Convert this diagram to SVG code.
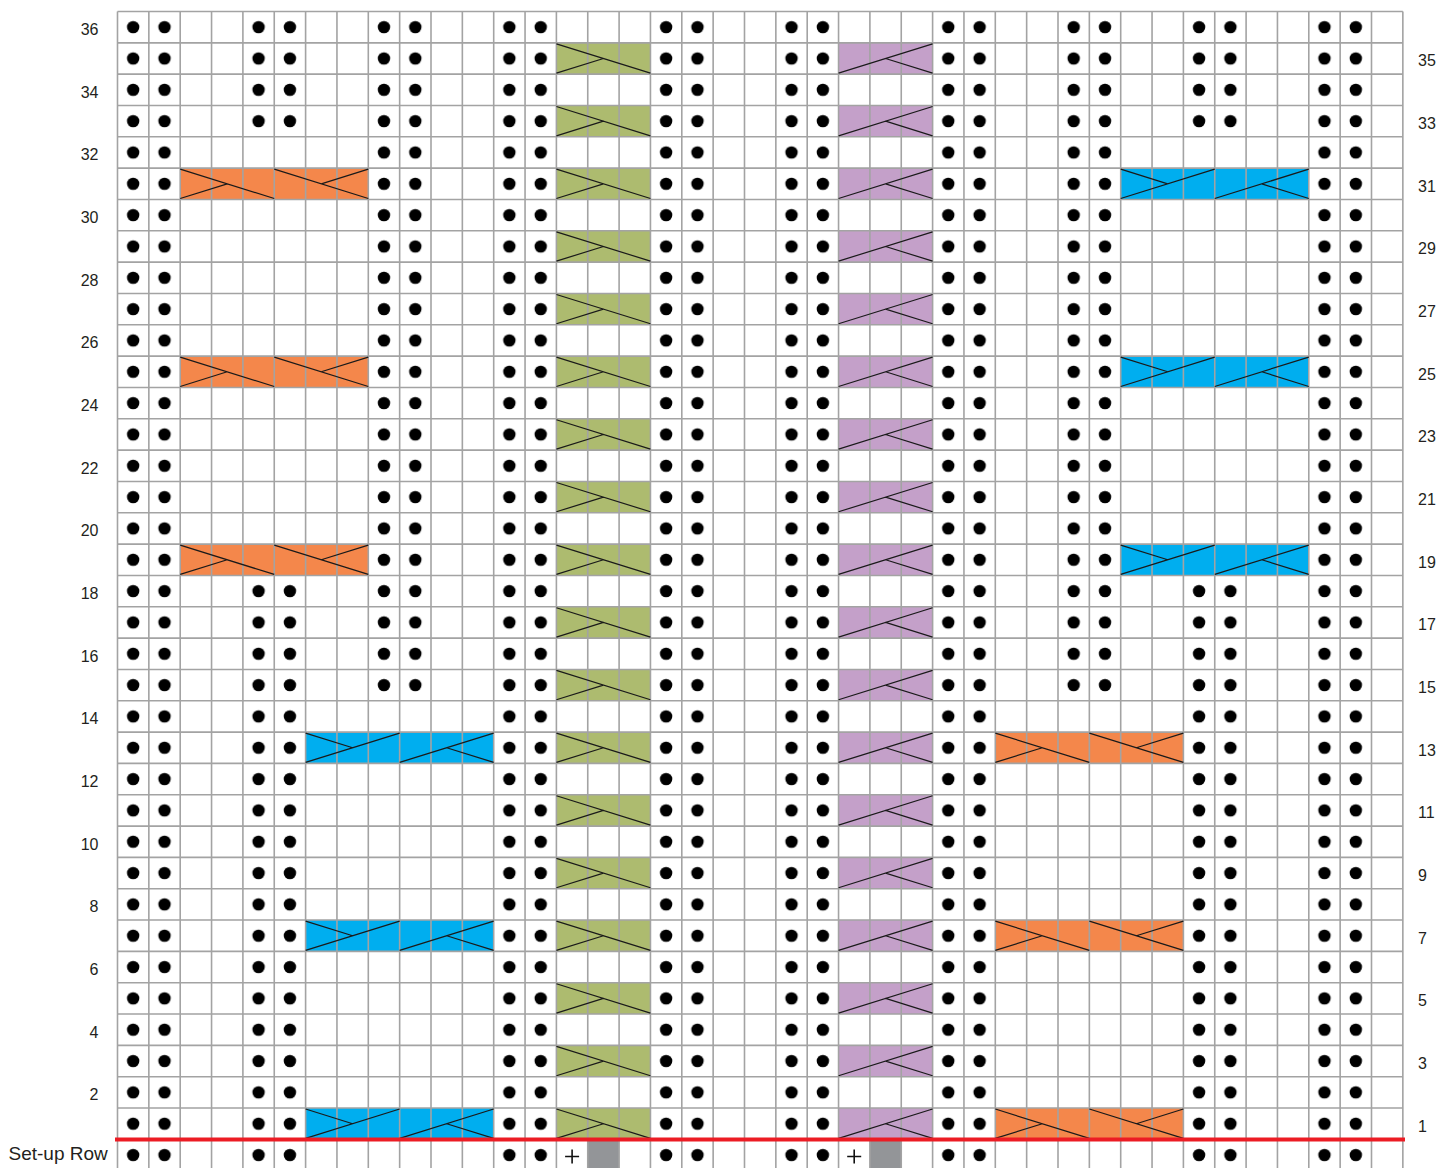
<svg xmlns="http://www.w3.org/2000/svg" xmlns:xlink="http://www.w3.org/1999/xlink" width="1439" height="1168" viewBox="0 0 1439 1168">
<style>
.fg{fill:#adbb6f}.fp{fill:#c4a0c9}.fo{fill:#f4874b}.fb{fill:#00aeef}.fs{fill:#939598}
.grid{fill:none;stroke:#a3a3a3;stroke-width:1.6}
.cl{fill:none;stroke:#1a1a1a;stroke-width:1.2}
.dots{fill:url(#dot)}
.lbl{font-family:"Liberation Sans",Arial,sans-serif;font-size:16px;fill:#231f20}
.lft{text-anchor:end}
.plus{stroke:#111;stroke-width:1.6}
</style>
<defs>
<pattern id="dot" patternUnits="userSpaceOnUse" x="117.5" y="11.5" width="31.35" height="31.33">
<circle cx="15.675" cy="15.665" r="6.2" fill="#000"/>
</pattern>
<rect id="f3" width="94.05" height="31.33"/>
<rect id="f6" width="188.1" height="31.33"/>
<path id="lG" class="cl" d="M0 1L94.05 30.33M0 30.33L47.03 15.67"/>
<path id="lP" class="cl" d="M0 30.33L94.05 1M47.03 15.67L94.05 30.33"/>
<path id="lO" class="cl" d="M0 1L94.05 30.33M0 30.33L47.03 15.67M94.05 1L188.1 30.33M141.08 15.67L188.1 1"/>
<path id="lB" class="cl" d="M0 30.33L94.05 1M0 1L47.03 15.67M94.05 30.33L188.1 1M141.08 15.67L188.1 30.33"/>
</defs>
<rect width="1439" height="1168" fill="#fff"/>
<g id="cable-fills">
<g class="fg">
<use xlink:href="#f3" x="556.4" y="42.83"/><use xlink:href="#f3" x="556.4" y="105.49"/><use xlink:href="#f3" x="556.4" y="168.15"/><use xlink:href="#f3" x="556.4" y="230.81"/><use xlink:href="#f3" x="556.4" y="293.47"/><use xlink:href="#f3" x="556.4" y="356.13"/><use xlink:href="#f3" x="556.4" y="418.79"/><use xlink:href="#f3" x="556.4" y="481.45"/><use xlink:href="#f3" x="556.4" y="544.11"/><use xlink:href="#f3" x="556.4" y="606.77"/><use xlink:href="#f3" x="556.4" y="669.43"/><use xlink:href="#f3" x="556.4" y="732.09"/><use xlink:href="#f3" x="556.4" y="794.75"/><use xlink:href="#f3" x="556.4" y="857.41"/><use xlink:href="#f3" x="556.4" y="920.07"/><use xlink:href="#f3" x="556.4" y="982.73"/><use xlink:href="#f3" x="556.4" y="1045.39"/><use xlink:href="#f3" x="556.4" y="1108.05"/>
</g>
<g class="fp">
<use xlink:href="#f3" x="838.55" y="42.83"/><use xlink:href="#f3" x="838.55" y="105.49"/><use xlink:href="#f3" x="838.55" y="168.15"/><use xlink:href="#f3" x="838.55" y="230.81"/><use xlink:href="#f3" x="838.55" y="293.47"/><use xlink:href="#f3" x="838.55" y="356.13"/><use xlink:href="#f3" x="838.55" y="418.79"/><use xlink:href="#f3" x="838.55" y="481.45"/><use xlink:href="#f3" x="838.55" y="544.11"/><use xlink:href="#f3" x="838.55" y="606.77"/><use xlink:href="#f3" x="838.55" y="669.43"/><use xlink:href="#f3" x="838.55" y="732.09"/><use xlink:href="#f3" x="838.55" y="794.75"/><use xlink:href="#f3" x="838.55" y="857.41"/><use xlink:href="#f3" x="838.55" y="920.07"/><use xlink:href="#f3" x="838.55" y="982.73"/><use xlink:href="#f3" x="838.55" y="1045.39"/><use xlink:href="#f3" x="838.55" y="1108.05"/>
</g>
<g class="fo">
<use xlink:href="#f6" x="180.2" y="168.15"/><use xlink:href="#f6" x="180.2" y="356.13"/><use xlink:href="#f6" x="180.2" y="544.11"/>
<use xlink:href="#f6" x="995.3" y="732.09"/><use xlink:href="#f6" x="995.3" y="920.07"/><use xlink:href="#f6" x="995.3" y="1108.05"/>
</g>
<g class="fb">
<use xlink:href="#f6" x="1120.7" y="168.15"/><use xlink:href="#f6" x="1120.7" y="356.13"/><use xlink:href="#f6" x="1120.7" y="544.11"/>
<use xlink:href="#f6" x="305.6" y="732.09"/><use xlink:href="#f6" x="305.6" y="920.07"/><use xlink:href="#f6" x="305.6" y="1108.05"/>
</g>
<g class="fs">
<rect x="587.75" y="1139.38" width="31.35" height="31.33"/>
<rect x="869.9" y="1139.38" width="31.35" height="31.33"/>
</g>
</g>
<g id="grid">
<path class="grid" d="M117.5 11.5V1171M148.85 11.5V1171M180.2 11.5V1171M211.55 11.5V1171M242.9 11.5V1171M274.25 11.5V1171M305.6 11.5V1171M336.95 11.5V1171M368.3 11.5V1171M399.65 11.5V1171M431 11.5V1171M462.35 11.5V1171M493.7 11.5V1171M525.05 11.5V1171M556.4 11.5V1171M587.75 11.5V1171M619.1 11.5V1171M650.45 11.5V1171M681.8 11.5V1171M713.15 11.5V1171M744.5 11.5V1171M775.85 11.5V1171M807.2 11.5V1171M838.55 11.5V1171M869.9 11.5V1171M901.25 11.5V1171M932.6 11.5V1171M963.95 11.5V1171M995.3 11.5V1171M1026.65 11.5V1171M1058 11.5V1171M1089.35 11.5V1171M1120.7 11.5V1171M1152.05 11.5V1171M1183.4 11.5V1171M1214.75 11.5V1171M1246.1 11.5V1171M1277.45 11.5V1171M1308.8 11.5V1171M1340.15 11.5V1171M1371.5 11.5V1171M1402.85 11.5V1171
M117.5 11.5H1402.85M117.5 42.83H1402.85M117.5 74.16H1402.85M117.5 105.49H1402.85M117.5 136.82H1402.85M117.5 168.15H1402.85M117.5 199.48H1402.85M117.5 230.81H1402.85M117.5 262.14H1402.85M117.5 293.47H1402.85M117.5 324.8H1402.85M117.5 356.13H1402.85M117.5 387.46H1402.85M117.5 418.79H1402.85M117.5 450.12H1402.85M117.5 481.45H1402.85M117.5 512.78H1402.85M117.5 544.11H1402.85M117.5 575.44H1402.85M117.5 606.77H1402.85M117.5 638.1H1402.85M117.5 669.43H1402.85M117.5 700.76H1402.85M117.5 732.09H1402.85M117.5 763.42H1402.85M117.5 794.75H1402.85M117.5 826.08H1402.85M117.5 857.41H1402.85M117.5 888.74H1402.85M117.5 920.07H1402.85M117.5 951.4H1402.85M117.5 982.73H1402.85M117.5 1014.06H1402.85M117.5 1045.39H1402.85M117.5 1076.72H1402.85M117.5 1108.05H1402.85M117.5 1139.38H1402.85M117.5 1170.71H1402.85"/>
</g>
<g id="cable-lines">
<use xlink:href="#lG" x="556.4" y="42.83"/><use xlink:href="#lG" x="556.4" y="105.49"/><use xlink:href="#lG" x="556.4" y="168.15"/><use xlink:href="#lG" x="556.4" y="230.81"/><use xlink:href="#lG" x="556.4" y="293.47"/><use xlink:href="#lG" x="556.4" y="356.13"/><use xlink:href="#lG" x="556.4" y="418.79"/><use xlink:href="#lG" x="556.4" y="481.45"/><use xlink:href="#lG" x="556.4" y="544.11"/><use xlink:href="#lG" x="556.4" y="606.77"/><use xlink:href="#lG" x="556.4" y="669.43"/><use xlink:href="#lG" x="556.4" y="732.09"/><use xlink:href="#lG" x="556.4" y="794.75"/><use xlink:href="#lG" x="556.4" y="857.41"/><use xlink:href="#lG" x="556.4" y="920.07"/><use xlink:href="#lG" x="556.4" y="982.73"/><use xlink:href="#lG" x="556.4" y="1045.39"/><use xlink:href="#lG" x="556.4" y="1108.05"/>
<use xlink:href="#lP" x="838.55" y="42.83"/><use xlink:href="#lP" x="838.55" y="105.49"/><use xlink:href="#lP" x="838.55" y="168.15"/><use xlink:href="#lP" x="838.55" y="230.81"/><use xlink:href="#lP" x="838.55" y="293.47"/><use xlink:href="#lP" x="838.55" y="356.13"/><use xlink:href="#lP" x="838.55" y="418.79"/><use xlink:href="#lP" x="838.55" y="481.45"/><use xlink:href="#lP" x="838.55" y="544.11"/><use xlink:href="#lP" x="838.55" y="606.77"/><use xlink:href="#lP" x="838.55" y="669.43"/><use xlink:href="#lP" x="838.55" y="732.09"/><use xlink:href="#lP" x="838.55" y="794.75"/><use xlink:href="#lP" x="838.55" y="857.41"/><use xlink:href="#lP" x="838.55" y="920.07"/><use xlink:href="#lP" x="838.55" y="982.73"/><use xlink:href="#lP" x="838.55" y="1045.39"/><use xlink:href="#lP" x="838.55" y="1108.05"/>
<use xlink:href="#lO" x="180.2" y="168.15"/><use xlink:href="#lO" x="180.2" y="356.13"/><use xlink:href="#lO" x="180.2" y="544.11"/>
<use xlink:href="#lO" x="995.3" y="732.09"/><use xlink:href="#lO" x="995.3" y="920.07"/><use xlink:href="#lO" x="995.3" y="1108.05"/>
<use xlink:href="#lB" x="1120.7" y="168.15"/><use xlink:href="#lB" x="1120.7" y="356.13"/><use xlink:href="#lB" x="1120.7" y="544.11"/>
<use xlink:href="#lB" x="305.6" y="732.09"/><use xlink:href="#lB" x="305.6" y="920.07"/><use xlink:href="#lB" x="305.6" y="1108.05"/>
</g>
<g id="purl-dots">
<rect class="dots" x="117.5" y="11.5" width="62.7" height="1159.21"/>
<rect class="dots" x="242.9" y="11.5" width="62.7" height="125.32"/>
<rect class="dots" x="242.9" y="575.44" width="62.7" height="595.27"/>
<rect class="dots" x="368.3" y="11.5" width="62.7" height="689.26"/>
<rect class="dots" x="493.7" y="11.5" width="62.7" height="1159.21"/>
<rect class="dots" x="650.45" y="11.5" width="62.7" height="1159.21"/>
<rect class="dots" x="775.85" y="11.5" width="62.7" height="1159.21"/>
<rect class="dots" x="932.6" y="11.5" width="62.7" height="1159.21"/>
<rect class="dots" x="1058" y="11.5" width="62.7" height="689.26"/>
<rect class="dots" x="1183.4" y="11.5" width="62.7" height="125.32"/>
<rect class="dots" x="1183.4" y="575.44" width="62.7" height="595.27"/>
<rect class="dots" x="1308.8" y="11.5" width="62.7" height="1159.21"/>
</g>
<g id="setup-symbols">
<path class="plus" d="M565.1 1156.5H579.1M572.1 1149.5V1163.5M847.2 1156.5H861.2M854.2 1149.5V1163.5"/>
</g>
<g id="setup-line">
<line x1="115" y1="1139.4" x2="1405" y2="1139.4" stroke="#ec1c24" stroke-width="4"/>
</g>
<g id="row-labels" class="lbl">
<text class="lft" x="98.5" y="35">36</text>
<text class="lft" x="98.5" y="97.6">34</text>
<text class="lft" x="98.5" y="160.3">32</text>
<text class="lft" x="98.5" y="223">30</text>
<text class="lft" x="98.5" y="285.6">28</text>
<text class="lft" x="98.5" y="348.3">26</text>
<text class="lft" x="98.5" y="410.9">24</text>
<text class="lft" x="98.5" y="473.6">22</text>
<text class="lft" x="98.5" y="536.3">20</text>
<text class="lft" x="98.5" y="598.9">18</text>
<text class="lft" x="98.5" y="661.6">16</text>
<text class="lft" x="98.5" y="724.2">14</text>
<text class="lft" x="98.5" y="786.9">12</text>
<text class="lft" x="98.5" y="849.6">10</text>
<text class="lft" x="98.5" y="912.2">8</text>
<text class="lft" x="98.5" y="974.9">6</text>
<text class="lft" x="98.5" y="1037.5">4</text>
<text class="lft" x="98.5" y="1100.2">2</text>
<text x="1418" y="66.3">35</text>
<text x="1418" y="129">33</text>
<text x="1418" y="191.6">31</text>
<text x="1418" y="254.3">29</text>
<text x="1418" y="316.9">27</text>
<text x="1418" y="379.6">25</text>
<text x="1418" y="442.3">23</text>
<text x="1418" y="504.9">21</text>
<text x="1418" y="567.6">19</text>
<text x="1418" y="630.2">17</text>
<text x="1418" y="692.9">15</text>
<text x="1418" y="755.6">13</text>
<text x="1418" y="818.2">11</text>
<text x="1418" y="880.9">9</text>
<text x="1418" y="943.5">7</text>
<text x="1418" y="1006.2">5</text>
<text x="1418" y="1068.9">3</text>
<text x="1418" y="1131.5">1</text>
<text x="8.5" y="1159.5" style="font-size:19px">Set-up Row</text>
</g>
</svg>
